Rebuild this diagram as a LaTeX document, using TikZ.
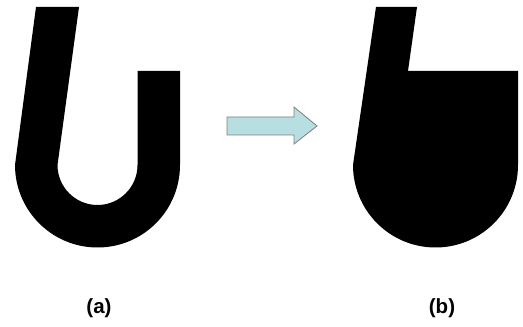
\documentclass[tikz,border=0pt]{standalone}
\usepackage{fontspec}
\setmainfont{Liberation Sans}
\usepackage{xcolor}
\definecolor{ShapeBlack}{HTML}{000000}
\definecolor{ArrowCyan}{HTML}{B7DEE0}
\definecolor{ArrowGrey}{HTML}{7F7F7F}
\usetikzlibrary{positioning}
\tikzset{
    % filled outline shapes
    solid shape/.style={
        fill=ShapeBlack,
        draw=none
    },
    block arrow/.style={
        fill=ArrowCyan,
        draw=ArrowGrey,
        line width=0.8pt,
        line join=miter
    },
    caption/.style={
        font=\fontsize{20.5}{23}\selectfont\bfseries,
        inner sep=0pt
    }
}
\begin{document}
\begin{tikzpicture}[x=1pt, y=1pt]
    \useasboundingbox (0,0) rectangle (523,327);

    % (a) open U shape
    \fill[solid shape] (36,320) -- (79,320) -- (57.5,162)
        arc[start angle=180, end angle=360, radius=40]
        -- (137.5,256) -- (180,256) -- (180,162)
        arc[start angle=0, end angle=-180, radius=82.5]
        -- cycle;

    % block arrow
    \draw[block arrow] (227,192) -- (227,210) -- (294,210) -- (294,220)
        -- (317,201) -- (294,183) -- (294,192) -- cycle;

    % (b) closed shape
    \fill[solid shape] (376,320) -- (417,320) -- (408,256)
        -- (518,256) -- (518,162)
        arc[start angle=0, end angle=-180, radius=82.5]
        -- cycle;

    \node[caption] (capa) at (99,19) {(a)};
    \node[caption] (capb) at (442,19) {(b)};
\end{tikzpicture}
\end{document}
